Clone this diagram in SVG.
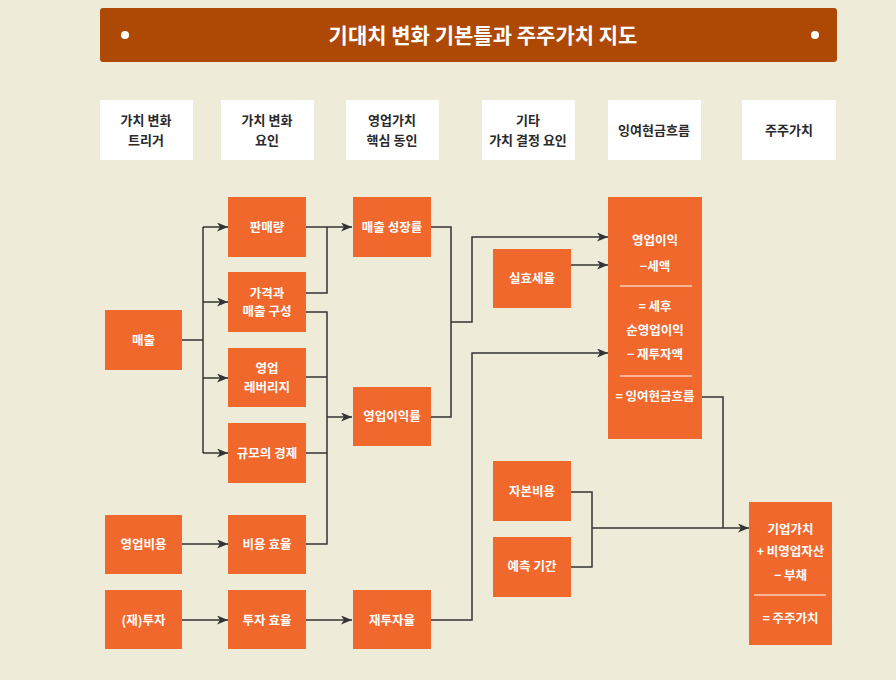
<svg xmlns="http://www.w3.org/2000/svg" width="896" height="680" viewBox="0 0 896 680">
<defs>
<style>
.bg{fill:#eeebd8}
.hdr{fill:#ffffff}
.box{fill:#f1682d}
.ht{font-family:"Noto Sans CJK KR","Noto Sans",sans-serif;font-size:13px;font-weight:bold;fill:#2a2a2a;text-anchor:middle}
.bt{font-family:"Noto Sans CJK KR","Noto Sans",sans-serif;font-size:12.5px;font-weight:bold;fill:#ffffff;text-anchor:middle}
.title{font-family:"Noto Sans CJK KR","Noto Sans",sans-serif;font-size:21px;font-weight:bold;fill:#ffffff;text-anchor:middle}
.con path{fill:none;stroke:#333333;stroke-width:1.5}
.sep{stroke:#ffffff;stroke-width:1.2}
</style>
<marker id="arr" markerUnits="userSpaceOnUse" markerWidth="11" markerHeight="9" refX="11" refY="4.5" orient="auto">
<path d="M0,0 L11,4.5 L0,9 L3,4.5 z" fill="#333333"/>
</marker>
</defs>
<rect class="bg" x="0" y="0" width="896" height="680"/>

<g id="title">
<rect x="100" y="8" width="737" height="54" rx="3" fill="#ad4904"/>
<circle cx="125" cy="35" r="4" fill="#ffffff"/>
<circle cx="815" cy="35" r="4" fill="#ffffff"/>
<text class="title" x="483" y="42.5">기대치 변화 기본틀과 주주가치 지도</text>
</g>

<g id="h1"><rect class="hdr" x="100" y="100" width="93" height="60"/><text class="ht" x="146" y="125">가치 변화</text><text class="ht" x="146" y="145">트리거</text></g>
<g id="h2"><rect class="hdr" x="221" y="100" width="93" height="60"/><text class="ht" x="267" y="125">가치 변화</text><text class="ht" x="267" y="145">요인</text></g>
<g id="h3"><rect class="hdr" x="346" y="100" width="93" height="60"/><text class="ht" x="392" y="125">영업가치</text><text class="ht" x="392" y="145">핵심 동인</text></g>
<g id="h4"><rect class="hdr" x="482" y="100" width="93" height="60"/><text class="ht" x="528" y="125">기타</text><text class="ht" x="528" y="145">가치 결정 요인</text></g>
<g id="h5"><rect class="hdr" x="608" y="100" width="93" height="60"/><text class="ht" x="654" y="135">잉여현금흐름</text></g>
<g id="h6"><rect class="hdr" x="742" y="100" width="94" height="60"/><text class="ht" x="789" y="135">주주가치</text></g>

<g class="con" id="connectors">
<path d="M182,340 H203"/>
<path d="M203,227 V453"/>
<path d="M203,227 H228" marker-end="url(#arr)"/>
<path d="M203,302 H228" marker-end="url(#arr)"/>
<path d="M203,378 H228" marker-end="url(#arr)"/>
<path d="M203,453 H228" marker-end="url(#arr)"/>
<path d="M306,227 H352" marker-end="url(#arr)"/>
<path d="M306,293 H327 V227"/>
<path d="M306,312 H327 V544 H306"/>
<path d="M306,377 H327"/>
<path d="M306,453 H327"/>
<path d="M327,417 H352" marker-end="url(#arr)"/>
<path d="M431,227 H451 V417 H431"/>
<path d="M451,322 H472 V237 H608" marker-end="url(#arr)"/>
<path d="M571,265 H608" marker-end="url(#arr)"/>
<path d="M431,620 H472 V353 H608" marker-end="url(#arr)"/>
<path d="M702,397 H723 V528"/>
<path d="M571,492 H592 V567 H571"/>
<path d="M592,528 H749" marker-end="url(#arr)"/>
<path d="M182,544 H228" marker-end="url(#arr)"/>
<path d="M182,620 H228" marker-end="url(#arr)"/>
<path d="M306,620 H352" marker-end="url(#arr)"/>
</g>

<g id="n-sales"><rect class="box" x="105" y="310" width="77" height="60"/><text class="bt" x="143.5" y="344.5">매출</text></g>
<g id="n-opcost"><rect class="box" x="105" y="515" width="77" height="59"/><text class="bt" x="143.5" y="549">영업비용</text></g>
<g id="n-invest"><rect class="box" x="105" y="590" width="77" height="59"/><text class="bt" x="143.5" y="624.5">(재)투자</text></g>

<g id="n-volume"><rect class="box" x="228" y="197" width="78" height="60"/><text class="bt" x="267" y="231.5">판매량</text></g>
<g id="n-price"><rect class="box" x="228" y="272" width="78" height="60"/><text class="bt" x="267" y="297.5">가격과</text><text class="bt" x="267" y="316">매출 구성</text></g>
<g id="n-leverage"><rect class="box" x="228" y="348" width="78" height="59"/><text class="bt" x="267" y="373">영업</text><text class="bt" x="267" y="391.5">레버리지</text></g>
<g id="n-scale"><rect class="box" x="228" y="423" width="78" height="60"/><text class="bt" x="267" y="457.5">규모의 경제</text></g>
<g id="n-costeff"><rect class="box" x="228" y="515" width="78" height="59"/><text class="bt" x="267" y="549">비용 효율</text></g>
<g id="n-inveff"><rect class="box" x="228" y="590" width="78" height="59"/><text class="bt" x="267" y="624.5">투자 효율</text></g>

<g id="n-growth"><rect class="box" x="353" y="197" width="78" height="60"/><text class="bt" x="392" y="231.5">매출 성장률</text></g>
<g id="n-margin"><rect class="box" x="353" y="387" width="78" height="59"/><text class="bt" x="392" y="421">영업이익률</text></g>
<g id="n-reinv"><rect class="box" x="353" y="590" width="78" height="59"/><text class="bt" x="392" y="624.5">재투자율</text></g>

<g id="n-tax"><rect class="box" x="493" y="249" width="78" height="59"/><text class="bt" x="532" y="283">실효세율</text></g>
<g id="n-capcost"><rect class="box" x="493" y="461" width="78" height="60"/><text class="bt" x="532" y="496">자본비용</text></g>
<g id="n-period"><rect class="box" x="493" y="537" width="78" height="60"/><text class="bt" x="532" y="571">예측 기간</text></g>

<g id="n-fcf">
<rect class="box" x="608" y="197" width="94" height="242"/>
<text class="bt" x="655" y="245">영업이익</text>
<text class="bt" x="655" y="270.5">−세액</text>
<line class="sep" x1="620" y1="286" x2="692" y2="286"/>
<text class="bt" x="655" y="311">= 세후</text>
<text class="bt" x="655" y="335">순영업이익</text>
<text class="bt" x="655" y="358.5">− 재투자액</text>
<line class="sep" x1="620" y1="376" x2="692" y2="376"/>
<text class="bt" x="655" y="401">= 잉여현금흐름</text>
</g>

<g id="n-equity">
<rect class="box" x="749" y="502" width="83" height="143"/>
<text class="bt" x="790.5" y="533.5">기업가치</text>
<text class="bt" x="790.5" y="556">+ 비영업자산</text>
<text class="bt" x="790.5" y="579.5">− 부채</text>
<line class="sep" x1="754" y1="595" x2="826" y2="595"/>
<text class="bt" x="790.5" y="622.5">= 주주가치</text>
</g>
</svg>
